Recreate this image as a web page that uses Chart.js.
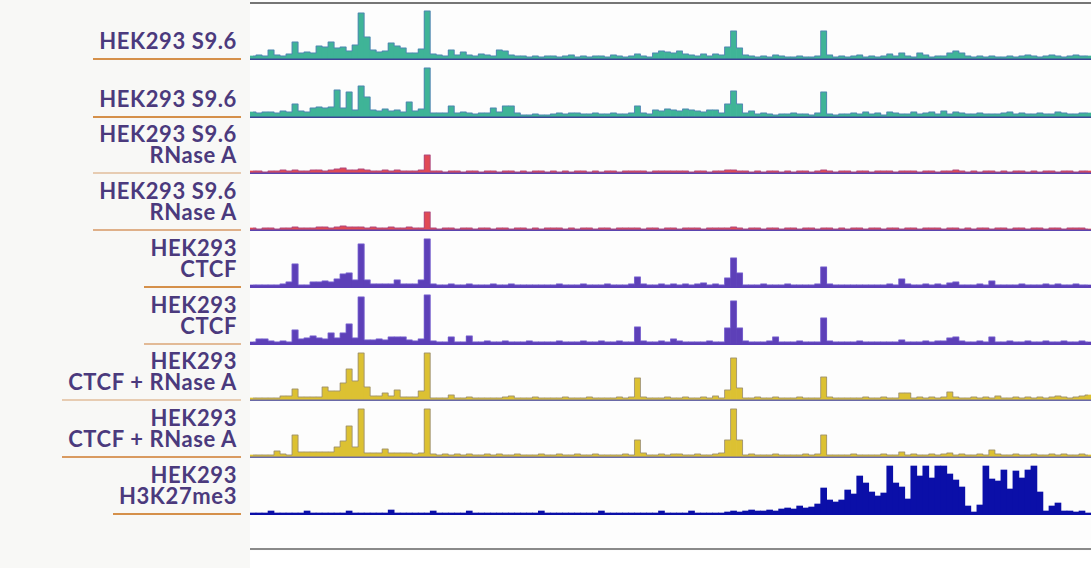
<!DOCTYPE html>
<html>
<head>
<meta charset="utf-8">
<script src="https://cdn.jsdelivr.net/npm/chart.js@4"></script>
<style>
  html, body { margin: 0; padding: 0; background: #fff; }
  #wrap { position: relative; width: 1091px; height: 568px; overflow: hidden; background: #fdfdfd; font-family: Lato, "Open Sans", sans-serif; }
  #side { position: absolute; left: 0; top: 0; width: 250px; height: 568px; background: #f8f8f6; }
  #under { position: absolute; left: 250px; top: 551px; width: 841px; height: 17px; background: #fff; }
  .frame { position: absolute; left: 250px; width: 841px; height: 2px; }
  .track { position: absolute; left: 250px; }
  .label { position: absolute; right: 850px; text-align: right; color: #4b3a7d; font-weight: 700; font-size: 22px; line-height: 21.6px; letter-spacing: 0.6px; padding: 0 4px 6px 6px; border-bottom: 2px solid #d5904a; white-space: nowrap; }
</style>
</head>
<body>
<div id="wrap">
  <div id="side"></div>
  <div id="under"></div>
  <div class="frame" style="top:2px;background:#767676"></div>
  <div class="frame" style="top:548px;background:#8a8a8a"></div>
</div>
<script>
// ==================== DATA ====================
// one value per genomic bin (140 bins across the window), signal in arbitrary units (0-50)
const binCount = 140;
const bins = [];
for (let i = 0; i < binCount; i++) bins.push(i + 1);

const trackNames = [
  "HEK293 S9.6",
  "HEK293 S9.6",
  "HEK293 S9.6\nRNase A",
  "HEK293 S9.6\nRNase A",
  "HEK293\nCTCF",
  "HEK293\nCTCF",
  "HEK293\nCTCF + RNase A",
  "HEK293\nCTCF + RNase A",
  "HEK293\nH3K27me3"
];

const s96Rep1 = [
  3,4,3,9,4,3,5,17,6,7,
  6,13,12,17,11,12,8,14,46,22,
  9,7,8,16,13,11,6,6,10,48,
  5,4,3,9,4,7,4,3,5,4,
  3,9,8,4,3,3,2,3,2,3,
  3,2,3,4,2,3,2,3,3,2,
  4,3,2,3,5,3,2,6,8,7,
  6,8,5,4,3,5,3,5,4,12,
  28,11,4,3,2,3,2,4,3,2,
  2,3,2,2,3,28,4,2,3,2,
  3,4,2,3,2,3,5,3,6,3,
  2,6,4,2,3,3,6,8,6,3,
  2,3,2,3,2,2,3,2,3,4,
  3,2,3,4,3,2,3,4,3,3
];

const s96Rep2 = [
  5,4,5,5,4,6,5,13,6,5,
  9,10,9,10,27,9,25,7,31,20,
  7,6,8,6,7,5,15,6,8,49,
  4,4,4,11,4,5,4,3,4,4,
  9,5,11,11,4,2,2,3,2,2,
  3,4,3,4,4,3,3,4,3,3,
  4,3,3,4,11,4,3,7,6,8,
  7,6,8,7,6,5,7,7,4,13,
  26,13,4,6,3,4,3,2,3,3,
  4,3,3,2,4,25,3,2,3,3,
  4,3,5,3,4,2,5,4,3,3,
  5,3,4,5,3,6,3,5,4,3,
  3,4,3,3,3,4,5,3,4,3,
  3,4,3,3,5,4,3,3,4,4
];

const rnaseRep1 = [
  2,2,1,2,2,3,2,3,2,2,
  3,3,2,3,4,5,3,3,4,3,
  2,2,3,2,3,2,2,2,3,18,
  2,2,1,2,2,1,2,2,1,2,
  2,1,2,2,1,2,1,2,2,1,
  2,1,2,1,2,2,1,2,1,2,
  2,1,2,2,2,2,1,2,2,2,
  2,2,2,1,2,2,1,2,2,3,
  3,2,2,1,2,1,2,2,1,2,
  1,2,2,1,2,3,2,1,2,2,
  1,2,2,1,2,2,2,1,2,2,
  2,1,2,2,1,2,2,3,2,1,
  2,1,2,2,1,2,1,2,2,1,
  2,1,2,2,1,2,2,1,2,2
];

const rnaseRep2 = [
  2,1,2,2,1,2,2,3,2,2,
  2,3,3,2,3,4,3,3,3,2,
  3,2,2,3,2,2,3,2,2,18,
  2,1,2,2,1,2,2,1,2,2,
  1,2,2,1,2,2,1,2,1,2,
  2,2,1,2,1,2,2,1,2,2,
  1,2,2,2,2,1,2,2,1,2,
  2,1,2,2,2,1,2,2,2,2,
  3,2,1,2,2,1,2,2,1,2,
  2,1,2,2,1,2,2,1,2,1,
  2,2,1,2,2,1,2,2,1,2,
  2,1,2,2,2,1,2,2,1,2,
  1,2,2,1,2,2,1,2,2,1,
  2,2,1,2,2,1,2,2,2,1
];

const ctcfRep1 = [
  2,2,2,2,2,3,5,23,2,2,
  5,5,6,5,8,13,14,7,43,7,
  3,3,3,3,7,3,3,3,7,48,
  3,2,2,3,2,2,3,2,2,2,
  3,2,2,3,2,2,2,2,2,2,
  2,3,2,2,2,3,2,2,2,3,
  2,2,2,3,10,3,2,2,3,2,
  3,2,3,2,3,4,2,3,2,9,
  29,14,2,2,2,3,2,2,2,3,
  2,2,2,2,3,20,3,2,2,2,
  2,2,2,2,2,2,3,2,8,3,
  2,2,3,2,3,2,4,5,2,2,
  2,3,2,6,2,2,2,2,3,2,
  2,2,3,2,3,2,2,3,2,2
];

const ctcfRep2 = [
  2,5,5,3,2,3,2,14,5,6,
  8,6,5,11,6,11,20,6,47,4,
  4,5,4,7,7,7,4,3,5,49,
  3,2,2,7,2,2,8,2,2,3,
  2,2,3,2,2,2,3,2,2,2,
  2,3,2,2,2,3,2,2,3,2,
  2,3,2,2,17,3,2,2,3,2,
  5,3,2,2,2,2,3,2,2,16,
  43,16,3,2,2,2,3,7,2,2,
  2,3,2,2,2,26,3,2,2,2,
  2,3,2,2,2,2,2,2,4,2,
  2,2,3,2,3,3,6,7,3,2,
  2,3,2,7,2,2,3,2,2,3,
  2,2,3,2,2,3,2,2,3,2
];

const ctcfRnaseRep1 = [
  2,2,2,2,2,4,4,11,3,3,
  3,3,13,9,9,17,31,19,47,13,
  4,4,7,4,10,3,3,3,9,47,
  2,2,2,5,2,2,3,2,2,2,
  2,2,3,4,2,2,2,3,2,2,
  2,2,3,2,2,2,3,2,2,2,
  2,3,2,3,22,3,2,2,2,3,
  2,2,3,2,2,3,2,4,2,10,
  42,12,2,2,3,2,2,3,2,2,
  2,3,2,2,2,23,3,2,2,2,
  2,2,3,2,2,3,2,2,7,7,
  2,3,2,3,2,3,8,3,2,2,
  3,2,3,2,4,2,2,3,2,3,
  2,3,2,3,4,3,2,3,4,5
];

const ctcfRnaseRep2 = [
  2,2,2,2,6,3,2,22,5,5,
  5,5,5,5,10,16,31,10,48,4,
  4,4,8,4,4,4,4,3,4,48,
  3,2,3,2,3,2,3,2,2,3,
  2,3,2,2,3,2,2,2,3,2,
  2,3,2,2,3,2,2,3,2,2,
  2,2,3,2,17,4,2,2,3,2,
  3,3,2,2,3,2,2,3,4,17,
  48,17,2,3,2,2,2,3,2,2,
  2,2,3,2,3,22,2,2,2,2,
  3,2,2,2,2,3,2,2,5,2,
  3,2,2,3,2,3,4,2,3,2,
  2,3,2,7,3,2,2,3,2,2,
  3,2,2,3,2,3,2,2,3,2
];

const h3k27me3 = [
  1,1,1,3,1,1,1,1,1,3,
  1,1,1,1,1,1,3,1,1,1,
  1,1,1,4,1,1,1,1,1,1,
  3,1,1,1,1,1,3,1,1,1,
  1,1,1,1,1,1,1,1,3,1,
  1,1,1,1,1,1,1,1,3,1,
  1,1,1,1,1,1,1,1,3,1,
  1,1,1,3,1,1,1,1,1,2,
  3,2,3,4,3,3,4,3,5,6,
  5,8,6,7,10,26,14,12,14,24,
  20,38,31,22,18,21,48,31,27,15,
  48,38,48,36,48,48,40,34,27,8,
  2,9,48,35,33,44,25,43,36,44,
  48,22,3,8,11,3,3,2,3,1
];

// ==================== TRACK STYLES ====================
const tracks = [
  { data: s96Rep1,       fill: "#3fb497", edge: "rgba(92,100,200,0.55)",  base: "#3b4796", rule: "#d5904a" },
  { data: s96Rep2,       fill: "#3fb497", edge: "rgba(92,100,200,0.55)",  base: "#3b4796", rule: "#d5904a" },
  { data: rnaseRep1,     fill: "#e04a55", edge: "rgba(120,70,170,0.45)",  base: "#5a45b0", rule: "#e7ccb2" },
  { data: rnaseRep2,     fill: "#e04a55", edge: "rgba(120,70,170,0.45)",  base: "#5a45b0", rule: "#dfb089" },
  { data: ctcfRep1,      fill: "#5d40b8", edge: "rgba(130,110,220,0.5)",  base: "#5d40b8", rule: "#d5904a" },
  { data: ctcfRep2,      fill: "#5d40b8", edge: "rgba(130,110,220,0.5)",  base: "#5d40b8", rule: "#e2ba96" },
  { data: ctcfRnaseRep1, fill: "#dcc132", edge: "rgba(100,100,175,0.45)", base: "#6a6aa8", rule: "#e7ccb2" },
  { data: ctcfRnaseRep2, fill: "#dcc132", edge: "rgba(100,100,175,0.45)", base: "#6a6aa8", rule: "#d99a60" },
  { data: h3k27me3,      fill: "#0b0fa8", edge: "rgba(11,15,168,0)",      base: "#0b0fa8", rule: "#d5904a" }
];
const baselineY = [59, 117, 173, 230, 287, 344, 400, 457, 514];
const trackH = 50;

// draws the zero line under each track
const baselinePlugin = {
  id: "baseline",
  afterDatasetsDraw(chart, args, opts) {
    const { ctx, chartArea } = chart;
    ctx.save();
    ctx.strokeStyle = opts.color;
    ctx.lineWidth = 1.5;
    ctx.beginPath();
    ctx.moveTo(chartArea.left, chartArea.bottom + 0.25);
    ctx.lineTo(chartArea.right, chartArea.bottom + 0.25);
    ctx.stroke();
    ctx.restore();
  }
};

const wrap = document.getElementById("wrap");

tracks.forEach((t, k) => {
  // label with underline
  const lab = document.createElement("div");
  lab.className = "label";
  lab.style.bottom = (568 - baselineY[k] - 1) + "px";
  lab.style.borderBottomColor = t.rule;
  lab.innerHTML = trackNames[k].split("\n").join("<br>");
  wrap.appendChild(lab);

  // track canvas
  const cv = document.createElement("canvas");
  cv.className = "track";
  cv.width = 841;
  cv.height = trackH + 2;
  cv.style.top = (baselineY[k] - trackH) + "px";
  wrap.appendChild(cv);

  new Chart(cv, {
    type: "bar",
    data: {
      labels: bins,
      datasets: [
        {
          type: "line",
          data: t.data,
          borderColor: t.edge,
          borderWidth: 1,
          stepped: "middle",
          pointRadius: 0,
          fill: false,
          order: 0
        },
        {
          data: t.data,
          backgroundColor: t.fill,
          borderWidth: 0,
          barPercentage: 1,
          categoryPercentage: 1,
          order: 1
        }
      ]
    },
    options: {
      responsive: false,
      animation: false,
      layout: { padding: { left: 0, right: 0, top: 0, bottom: 2 } },
      plugins: {
        legend: { display: false },
        tooltip: { enabled: false },
        baseline: { color: t.base }
      },
      scales: {
        x: { display: false },
        y: { display: false, min: 0, max: trackH }
      }
    },
    plugins: [baselinePlugin]
  });
});
</script>
</body>
</html>
